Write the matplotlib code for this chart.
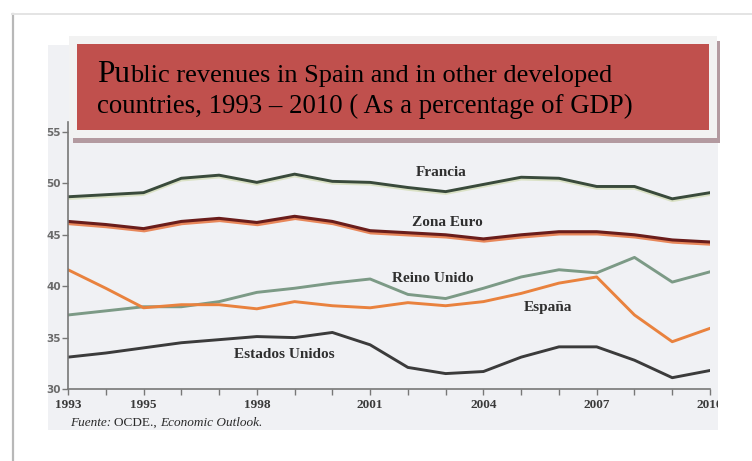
import matplotlib
matplotlib.use("Agg")
import matplotlib.pyplot as plt
import matplotlib.patheffects as pe
from matplotlib.patches import Rectangle
from matplotlib.lines import Line2D

# ── Data (% of GDP) ───────────────────────────────────────────────────────────
years = list(range(1993, 2011))
francia = [48.7, 48.9, 49.1, 50.5, 50.8, 50.1, 50.9, 50.2, 50.1, 49.6,
           49.2, 49.9, 50.6, 50.5, 49.7, 49.7, 48.5, 49.1]
zona_euro = [46.3, 46.0, 45.6, 46.3, 46.6, 46.2, 46.8, 46.3, 45.4, 45.2,
             45.0, 44.6, 45.0, 45.3, 45.3, 45.0, 44.5, 44.3]
reino_unido = [37.2, 37.6, 38.0, 38.0, 38.5, 39.4, 39.8, 40.3, 40.7, 39.2,
               38.8, 39.8, 40.9, 41.6, 41.3, 42.8, 40.4, 41.4]
espana = [41.6, 39.8, 37.9, 38.2, 38.2, 37.8, 38.5, 38.1, 37.9, 38.4,
          38.1, 38.5, 39.3, 40.3, 40.9, 37.2, 34.6, 35.9]
estados_unidos = [33.1, 33.5, 34.0, 34.5, 34.8, 35.1, 35.0, 35.5, 34.3, 32.1,
                  31.5, 31.7, 33.1, 34.1, 34.1, 32.8, 31.1, 31.8]

major_years = [1993, 1995, 1998, 2001, 2004, 2007, 2010]
y_ticks = [30, 35, 40, 45, 50, 55]

title_1 = "Pu"
title_2 = "blic revenues in Spain and in other developed"
title_3 = "countries, 1993 \u2013 2010 ( As a percentage of GDP)"

W, H = 752, 461


def fx(px):
    return px / W


def fy(py):
    return 1 - py / H


fig = plt.figure(figsize=(W / 100, H / 100), dpi=100)
fig.patch.set_facecolor("white")

# ── page frame + scanned area ────────────────────────────────────────────────
fig.add_artist(Line2D([fx(12.5), fx(12.5)], [fy(14), fy(461)], color="#b8b8b8",
                      lw=1.6, zorder=-2))
fig.add_artist(Line2D([fx(12), fx(752)], [fy(14), fy(14)], color="#e4e4e4",
                      lw=1.4, zorder=-2))
fig.add_artist(Rectangle((fx(48), fy(430)), fx(718) - fx(48), fy(45) - fy(430),
                         transform=fig.transFigure, facecolor="#f0f1f4",
                         edgecolor="none", zorder=-1))

# ── chart ────────────────────────────────────────────────────────────────────
ppu = (389 - 132) / 25.0
ymax = 56
ax = fig.add_axes([fx(68), fy(389), fx(710) - fx(68), (ymax - 30) * ppu / H])
ax.set_facecolor("none")
ax.set_xlim(1993, 2010)
ax.set_ylim(30, ymax)

serif = "Liberation Serif"

ax.plot(years, francia, color="#394a3b", lw=2.1,
        path_effects=[pe.SimpleLineShadow(offset=(0, -1.3), shadow_color="#d8e0c0",
                                          alpha=0.9), pe.Normal()])
ax.plot(years, zona_euro, color="#6a1d1b", lw=2.2,
        path_effects=[pe.SimpleLineShadow(offset=(0.5, -1.6), shadow_color="#e8875a",
                                          alpha=1.0), pe.Normal()])
ax.plot(years, reino_unido, color="#7c9a86", lw=2.1)
ax.plot(years, espana, color="#e9823e", lw=2.1)
ax.plot(years, estados_unidos, color="#3b3b3b", lw=2.1)

lab = dict(fontfamily=serif, fontweight="bold", fontsize=11, color="#2f2f2f",
           ha="center", va="center")
fig.text(fx(441), fy(173), "Francia", **lab)
fig.text(fx(447), fy(222), "Zona Euro", **lab)
fig.text(fx(433), fy(278), "Reino Unido", **lab)
fig.text(fx(548), fy(307), "España", **lab)
fig.text(fx(284), fy(354), "Estados Unidos", **lab)

for s in ["top", "right"]:
    ax.spines[s].set_visible(False)
for s in ["left", "bottom"]:
    ax.spines[s].set_color("#777777")
    ax.spines[s].set_linewidth(1.2)

ax.set_xticks(major_years)
ax.set_xticks(years, minor=True)
ax.set_xticklabels([str(y) for y in major_years], fontfamily=serif,
                   fontweight="bold", fontsize=9.5, color="#3a3a3a")
ax.tick_params(axis="x", which="both", direction="out", length=4, width=1,
               color="#777777", pad=3)
ax.set_yticks(y_ticks)
ax.set_yticklabels([str(v) for v in y_ticks], fontsize=7.5, fontweight="bold",
                   color="#6a6a6a")
ax.tick_params(axis="y", direction="out", length=4, width=1, color="#777777", pad=1)

# cut at the scan's right edge, like the photocopy
fig.add_artist(Rectangle((fx(718), fy(461)), fx(752) - fx(718), fy(150) - fy(461),
                         transform=fig.transFigure, facecolor="white",
                         edgecolor="none", zorder=5))

# ── source line ──────────────────────────────────────────────────────────────
renderer = fig.canvas.get_renderer()
x0 = 70
parts = [("Fuente: ", "italic"), ("OCDE., ", "normal"), ("Economic Outlook.", "italic")]
for txt, style in parts:
    t = fig.text(fx(x0), fy(426), txt, fontfamily=serif, fontstyle=style,
                 fontsize=9.5, color="#2a2a2a", va="baseline", zorder=6)
    x0 = t.get_window_extent(renderer).x1

# ── title box ────────────────────────────────────────────────────────────────
fig.add_artist(Rectangle((fx(73), fy(143)), fx(720) - fx(73), fy(41) - fy(143),
                         transform=fig.transFigure, facecolor="#b39aa0",
                         edgecolor="none", zorder=7))
fig.add_artist(Rectangle((fx(69), fy(138)), fx(717) - fx(69), fy(36) - fy(138),
                         transform=fig.transFigure, facecolor="#f2f2f2",
                         edgecolor="none", zorder=8))
fig.add_artist(Rectangle((fx(77), fy(130)), fx(709) - fx(77), fy(44) - fy(130),
                         transform=fig.transFigure, facecolor="#c0504d",
                         edgecolor="none", zorder=9))

t1 = fig.text(fx(97), fy(82), title_1, fontfamily=serif, fontsize=22.5,
              color="black", va="baseline", zorder=10)
xa = t1.get_window_extent(renderer).x1
fig.text(xa / W, fy(82), title_2, fontfamily=serif, fontsize=19,
         color="black", va="baseline", zorder=10)
fig.text(fx(97), fy(113), title_3, fontfamily=serif, fontsize=19.3,
         color="black", va="baseline", zorder=10)

fig.savefig("out.png", dpi=100)
